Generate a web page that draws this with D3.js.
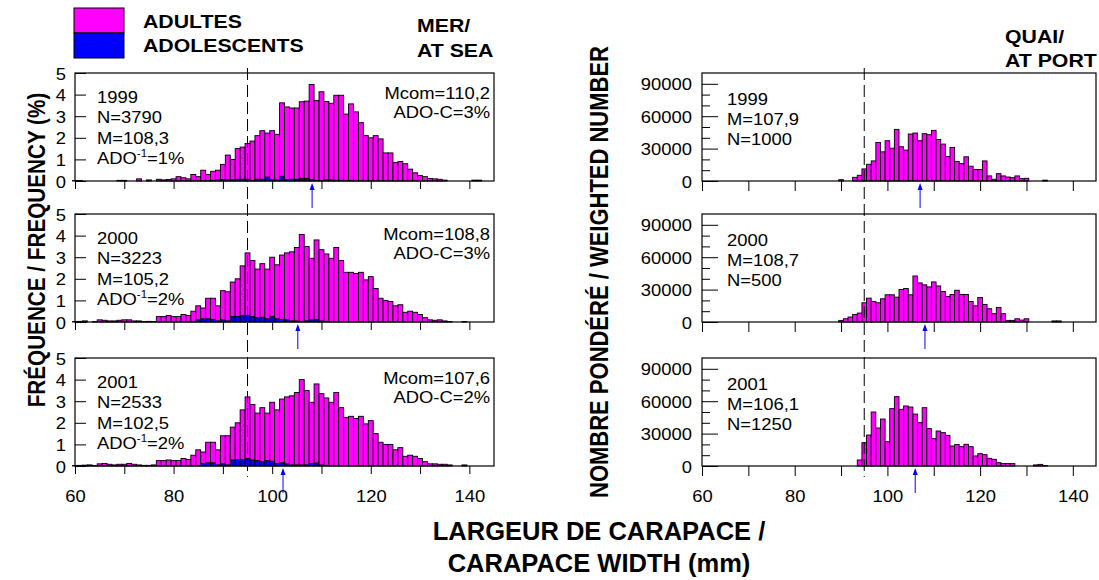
<!DOCTYPE html>
<html><head><meta charset="utf-8">
<script src="https://cdn.jsdelivr.net/npm/d3@7"></script>
<style>
body{margin:0;background:#fff}
svg{display:block}
text{font-family:"Liberation Sans",Arial,Helvetica,sans-serif}
</style>
</head><body>
<svg id="c" width="1099" height="580"></svg>
<script>
// ---------- DATA ----------
// At sea: 1-mm bins centred on 60..142 mm, frequency in %
const seaBins = d3.range(60, 143);
const seaTotal1999 = [
 0.02,0.02,0,0,0,0,0,0,0,0.03,
 0.03,0,0,0.1,0,0.05,0,0.08,0.05,0.07,
 0.1,0.2,0.15,0.1,0.3,0.2,0.5,0.3,0.45,0.5,
 0.77,1.2,1.0,1.5,1.57,1.74,1.85,2.1,2.33,2.22,
 2.33,2.16,3.62,3.43,3.38,3.38,3.67,3.7,4.47,3.72,
 4.13,3.68,3.6,3.97,3.97,3.1,3.57,3.2,2.7,2.1,
 2.0,2.1,1.95,1.3,1.3,0.85,0.9,0.8,0.55,0.38,
 0.25,0.2,0.12,0.1,0.08,0.04,0,0,0,0,
 0,0.04,0.04];
const seaAdo1999 = [
 0,0,0,0,0,0,0,0,0,0,
 0,0,0,0,0,0,0,0,0,0,
 0,0,0,0,0,0,0.02,0.02,0.03,0.05,
 0.07,0.05,0.05,0.08,0.08,0.08,0.03,0.08,0.08,0.18,
 0.05,0.05,0.22,0.06,0.08,0.08,0.12,0.12,0.06,0.03,
 0.02,0.05,0.05,0.03,0.03,0.02,0.02,0,0,0,
 0,0,0,0,0,0,0,0,0,0,
 0,0,0,0,0,0,0,0,0,0,
 0,0,0];
const seaTotal2000 = [
 0.02,0.03,0.05,0,0.02,0.1,0.08,0.05,0.05,0.08,
 0.1,0.1,0.05,0.05,0.02,0.03,0.02,0.25,0.25,0.3,
 0.25,0.25,0.35,0.3,0.5,0.75,0.65,1.1,1.1,0.75,
 1.45,1.4,1.85,2.0,2.6,3.2,2.85,2.45,2.7,2.45,
 3.0,2.65,3.1,3.2,3.25,3.45,4.05,3.5,2.95,3.8,
 3.35,3.15,2.95,3.45,2.85,2.3,2.3,2.25,2.3,1.95,
 2.1,1.55,1.1,1.0,0.95,0.75,0.8,0.45,0.5,0.45,
 0.35,0.2,0.1,0.08,0.1,0.05,0.02,0,0,0.02,
 0,0,0];
const seaAdo2000 = [
 0,0,0.03,0,0,0,0,0,0,0,
 0,0,0,0,0,0,0,0,0,0,
 0,0,0,0,0,0.1,0.15,0.15,0.12,0.05,
 0.1,0.05,0.25,0.25,0.3,0.3,0.25,0.2,0.22,0.15,
 0.25,0.15,0.12,0.1,0.05,0.05,0.03,0.05,0.1,0.12,
 0.05,0.03,0,0,0,0,0,0,0,0,
 0,0,0,0,0,0,0,0,0,0,
 0,0,0,0,0,0,0,0,0,0,
 0,0,0];
const seaTotal2001 = [
 0.02,0.03,0.03,0.05,0.02,0.1,0.12,0.08,0.05,0.08,
 0.08,0.12,0.08,0.05,0.03,0.03,0.05,0.25,0.25,0.28,
 0.25,0.25,0.35,0.3,0.5,0.75,0.65,1.1,1.1,0.75,
 1.4,1.4,1.8,2.0,2.6,3.2,2.85,2.45,2.7,2.45,
 2.95,2.6,3.1,3.2,3.25,3.4,4.0,3.5,2.95,3.8,
 3.35,3.15,2.95,3.4,2.7,2.25,2.3,2.2,2.3,1.95,
 2.1,1.5,1.1,1.0,1.0,0.75,0.85,0.45,0.5,0.45,
 0.35,0.2,0.1,0.1,0.08,0.08,0.05,0,0,0.05,
 0,0,0];
const seaAdo2001 = [
 0,0,0.04,0.05,0,0,0,0,0,0,
 0,0,0,0,0,0,0,0,0,0,
 0,0,0,0,0,0,0.12,0.15,0.15,0.05,
 0.1,0.05,0.28,0.3,0.3,0.34,0.28,0.25,0.2,0.25,
 0.22,0.12,0.15,0.1,0.05,0.05,0.05,0.05,0.12,0.14,
 0.05,0.03,0,0,0,0,0,0,0,0,
 0,0,0,0,0,0,0,0,0,0,
 0,0,0,0,0,0,0,0,0,0,
 0,0,0];

// At port: 1-mm bins centred on 88..137 mm, weighted numbers
const portBins = d3.range(88, 138);
const port1999 = [
 0,0,1200,0,0,3400,5300,11200,15500,18600,
 35700,27000,37300,30400,47800,31700,28600,43500,44400,37300,
 43800,42900,46900,38500,34200,22700,31100,18000,16100,22400,
 13700,10600,10600,18600,4700,1600,6800,4700,3700,3100,
 4700,2200,2500,0,0,0,800,0,0,0];
const port2000 = [
 0,0,1500,3000,4600,7000,8300,17800,22100,19000,
 17800,21500,25200,25200,23000,30100,31000,25200,42600,36200,
 34400,32500,37100,33400,28200,23600,25500,29400,25500,25500,
 19000,15000,22700,16300,12300,7700,13500,7700,1500,1500,
 3000,1800,3000,0,0,0,0,0,1000,1000];
const port2001 = [
 0,0,0,0,0,0,5600,21600,28700,50000,
 35200,43500,22500,53100,64200,52500,55600,54600,48100,40100,
 54000,34600,25300,32400,30900,28400,18500,19800,17900,20100,
 17900,9300,11400,10500,7100,6200,3100,2200,2200,2200,
 0,0,0,0,1000,1500,500,0,0,0];

// annotations
const years = ["1999", "2000", "2001"];
const seaN = ["3790", "3223", "2533"];
const seaM = ["108,3", "105,2", "102,5"];
const seaAdoPct = ["1%", "2%", "2%"];
const seaMcom = ["110,2", "108,8", "107,6"];
const seaAdoC = ["3%", "3%", "2%"];
const seaArrow = [108.1, 105.2, 102.2];
const portM = ["107,9", "108,7", "106,1"];
const portN = ["1000", "500", "1250"];
const portArrow = [107.05, 108.1, 106.0];
const maturitySize = 95;
const xTicks = [60, 70, 80, 90, 100, 110, 120, 130, 140];
const seaYTicks = [0, 1, 2, 3, 4, 5];
const portYTicks = [0, 30000, 60000, 90000];
const portYMinor = [10000, 20000, 40000, 50000, 70000, 80000];

// ---------- LAYOUT ----------
const SX = 1.15;
const MAG = "#ff00ff", BLUE = "#0000ff";
const svg = d3.select("#c");
const tops = [73, 214, 358], PH = 108;
const seaX = d3.scaleLinear().domain([60, 145]).range([75, 494]);
const portX = d3.scaleLinear().domain([60, 145]).range([702, 1096]);

function label(x, y, str, size, opt = {}) {
  const t = svg.append("text")
    .attr("transform", `translate(${x},${y}) scale(${opt.sx || SX},1)` + (opt.rot ? ` rotate(${opt.rot})` : ""))
    .attr("font-size", size)
    .attr("font-weight", opt.bold ? "bold" : "normal")
    .attr("text-anchor", opt.anchor || "start")
    .attr("fill", "#000");
  if (str !== null) t.text(str);
  return t;
}

function styleTickText(sel, tx, ty) {
  sel.selectAll(".tick text")
    .attr("x", 0).attr("y", 0).attr("dy", null)
    .attr("transform", `translate(${tx},${ty}) scale(${SX},1)`)
    .attr("font-size", 16)
    .attr("font-family", '"Liberation Sans",Arial,sans-serif')
    .attr("fill", "#000");
  sel.selectAll(".tick line").attr("stroke", "#000");
  sel.select(".domain").remove();
}

const seaTotals = [seaTotal1999, seaTotal2000, seaTotal2001];
const seaAdos = [seaAdo1999, seaAdo2000, seaAdo2001];
const ports = [port1999, port2000, port2001];

// ---------- SEA PANELS ----------
seaTotals.forEach((tot, i) => {
  const top = tops[i], bot = top + PH;
  const y = d3.scaleLinear().domain([0, 5]).range([bot, top]);
  const rows = seaBins.map((b, j) => ({ bin: b, ado: seaAdos[i][j], adult: Math.max(0, tot[j] - seaAdos[i][j]) }));
  const stacked = d3.stack().keys(["ado", "adult"])(rows);
  const g = svg.append("g");
  stacked.forEach(layer => {
    g.append("g").selectAll("rect")
      .data(layer.filter(d => d[1] - d[0] > 0))
      .join("rect")
      .attr("x", d => seaX(d.data.bin - 0.5))
      .attr("width", d => seaX(d.data.bin + 0.5) - seaX(d.data.bin - 0.5))
      .attr("y", d => y(d[1]))
      .attr("height", d => y(d[0]) - y(d[1]))
      .attr("fill", layer.key === "ado" ? BLUE : MAG)
      .attr("stroke", "#000").attr("stroke-width", 0.9);
  });
  svg.append("rect").attr("x", seaX(60)).attr("y", top)
    .attr("width", seaX(145) - seaX(60)).attr("height", PH)
    .attr("fill", "none").attr("stroke", "#000").attr("stroke-width", 1.2);
  const xa = d3.axisBottom(seaX).tickValues(xTicks).tickSize(8).tickSizeOuter(0)
    .tickFormat(d => (i === 2 && d % 20 === 0) ? d : "");
  svg.append("g").attr("transform", `translate(0,${bot})`).call(xa)
    .call(s => styleTickText(s, 0, 36)).selectAll(".tick text").attr("text-anchor", "middle");
  const ya = d3.axisLeft(y).tickValues(seaYTicks).tickSizeInner(-11).tickSizeOuter(0).tickPadding(9).tickFormat(d3.format("d"));
  svg.append("g").attr("transform", `translate(${seaX(60)},0)`).call(ya)
    .call(s => styleTickText(s, -9, 6)).selectAll(".tick text").attr("text-anchor", "end");

  // arrow at mean
  const ax = seaX(seaArrow[i]);
  svg.append("line").attr("x1", ax).attr("x2", ax).attr("y1", bot + 6).attr("y2", bot + 27)
    .attr("stroke", BLUE).attr("stroke-width", 1);
  svg.append("path").attr("d", `M${ax},${bot + 2}L${ax - 2.5},${bot + 9}L${ax + 2.5},${bot + 9}Z`).attr("fill", BLUE);

  // texts
  label(97, top + 29.5, years[i], 16);
  label(97, top + 50, "N=" + seaN[i], 16);
  label(97, top + 70.5, "M=" + seaM[i], 16);
  const t = label(97, top + 91, "ADO", 16);
  t.append("tspan").attr("font-size", 10).attr("dy", -7).text("-1");
  t.append("tspan").attr("dy", 7).text("=" + seaAdoPct[i]);
  label(490, top + 26, "Mcom=" + seaMcom[i], 16, { anchor: "end" });
  label(490, top + 45, "ADO-C=" + seaAdoC[i], 16, { anchor: "end" });
});

// ---------- PORT PANELS ----------
ports.forEach((vals, i) => {
  const top = tops[i], bot = top + PH;
  const y = d3.scaleLinear().domain([0, 100000]).range([bot, top]);
  svg.append("g").selectAll("rect")
    .data(portBins.map((b, j) => ({ bin: b, v: vals[j] })).filter(d => d.v > 0))
    .join("rect")
    .attr("x", d => portX(d.bin - 0.5))
    .attr("width", d => portX(d.bin + 0.5) - portX(d.bin - 0.5))
    .attr("y", d => y(d.v))
    .attr("height", d => y(0) - y(d.v))
    .attr("fill", MAG).attr("stroke", "#000").attr("stroke-width", 0.9);
  svg.append("rect").attr("x", portX(60)).attr("y", top)
    .attr("width", portX(145) - portX(60)).attr("height", PH)
    .attr("fill", "none").attr("stroke", "#000").attr("stroke-width", 1.2);
  const xa = d3.axisBottom(portX).tickValues(xTicks).tickSize(10).tickSizeOuter(0)
    .tickFormat(d => (i === 2 && d % 20 === 0) ? d : "");
  svg.append("g").attr("transform", `translate(0,${bot})`).call(xa)
    .call(s => styleTickText(s, 0, 36)).selectAll(".tick text").attr("text-anchor", "middle");
  const ya = d3.axisLeft(y).tickValues(portYTicks).tickSizeInner(-16).tickSizeOuter(0).tickPadding(10).tickFormat(d3.format("d"));
  svg.append("g").attr("transform", `translate(${portX(60)},0)`).call(ya)
    .call(s => styleTickText(s, -10, 6)).selectAll(".tick text").attr("text-anchor", "end");
  const ym = d3.axisLeft(y).tickValues(portYMinor).tickSizeInner(-8).tickSizeOuter(0).tickFormat("");
  svg.append("g").attr("transform", `translate(${portX(60)},0)`).call(ym)
    .call(s => styleTickText(s, 0, 0));

  const ax = portX(portArrow[i]);
  svg.append("line").attr("x1", ax).attr("x2", ax).attr("y1", bot + 6).attr("y2", bot + 27)
    .attr("stroke", BLUE).attr("stroke-width", 1);
  svg.append("path").attr("d", `M${ax},${bot + 2}L${ax - 2.5},${bot + 9}L${ax + 2.5},${bot + 9}Z`).attr("fill", BLUE);

  label(727, top + 32, years[i], 16);
  label(727, top + 52, "M=" + portM[i], 16);
  label(727, top + 72, "N=" + portN[i], 16);
});

// dashed maturity lines
[seaX, portX].forEach(sc => {
  svg.append("line").attr("x1", sc(maturitySize)).attr("x2", sc(maturitySize))
    .attr("y1", 68).attr("y2", 477)
    .attr("stroke", "#000").attr("stroke-width", 1).attr("stroke-dasharray", "12,5");
});

// legend
svg.append("rect").attr("x", 74).attr("y", 8).attr("width", 50).attr("height", 25)
  .attr("fill", MAG).attr("stroke", "#000").attr("stroke-width", 1);
svg.append("rect").attr("x", 74).attr("y", 33).attr("width", 50).attr("height", 25)
  .attr("fill", BLUE).attr("stroke", "#000").attr("stroke-width", 1);
label(143, 28, "ADULTES", 18.5, { bold: true });
label(143, 52, "ADOLESCENTS", 18.5, { bold: true });
label(417, 32, "MER/", 18.5, { bold: true });
label(417, 57, "AT SEA", 18.5, { bold: true });
label(1005, 43, "QUAI/", 18.5, { bold: true });
label(1005, 67, "AT PORT", 18.5, { bold: true });

// axis titles
label(45, 250, "FRÉQUENCE / FREQUENCY (%)", 20.7, { bold: true, rot: -90, anchor: "middle" });
label(608, 272, "NOMBRE PONDÉRÉ / WEIGHTED NUMBER", 22, { bold: true, rot: -90, anchor: "middle" });
label(599, 540, "LARGEUR DE CARAPACE /", 25.5, { bold: true, anchor: "middle", sx: 1.0 });
label(599, 572, "CARAPACE WIDTH (mm)", 25.5, { bold: true, anchor: "middle", sx: 1.0 });
</script>
</body></html>
